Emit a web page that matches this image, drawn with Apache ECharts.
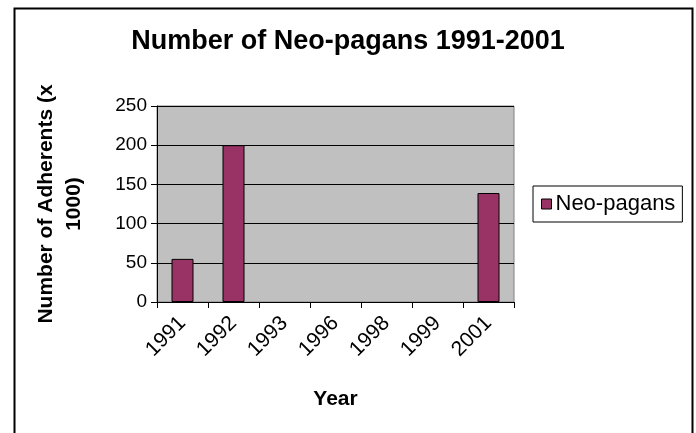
<!DOCTYPE html>
<html>
<head>
<meta charset="utf-8">
<script src="https://cdn.jsdelivr.net/npm/echarts@6/dist/echarts.min.js"></script>
<style>
html,body{margin:0;padding:0;background:#fff;}
#chart{width:696px;height:433px;}
</style>
</head>
<body>
<div id="chart"></div>
<script>
var categories = ['1991', '1992', '1993', '1996', '1998', '1999', '2001'];
var neoPagans = [55, 200, null, null, null, null, 139];
var yTicks = [0, 50, 100, 150, 200, 250];

var FONT = '"Liberation Sans", Arial, sans-serif';
var chart = echarts.init(document.getElementById('chart'), null, {renderer: 'canvas'});
chart.setOption({
  animation: false,
  backgroundColor: '#ffffff',
  title: {
    text: 'Number of Neo-pagans 1991-2001',
    left: 'center',
    top: 23,
    textStyle: {fontFamily: FONT, fontSize: 27, fontWeight: 'bold', color: '#000'}
  },
  legend: {
    left: 533, top: 186,
    itemWidth: 10, itemHeight: 10,
    borderColor: '#000', borderWidth: 1,
    padding: [7, 7, 7, 8],
    itemGap: 4,
    textStyle: {fontFamily: FONT, fontSize: 22, color: '#000', padding: [0, 0, 0, -1]},
    data: [{name: 'Neo-pagans', icon: 'rect', itemStyle: {color: '#993366', borderColor: '#000', borderWidth: 1}}]
  },
  grid: {
    left: 157, right: 182, top: 106, bottom: 131,
    show: true, backgroundColor: '#C0C0C0', borderColor: '#808080', borderWidth: 1
  },
  xAxis: {
    type: 'category',
    data: categories,
    name: 'Year',
    nameLocation: 'middle',
    nameGap: 87,
    nameTextStyle: {fontFamily: FONT, fontSize: 21, fontWeight: 'bold', color: '#000'},
    axisLine: {lineStyle: {color: '#000', width: 1}},
    axisTick: {show: true, length: 6, lineStyle: {color: '#000'}},
    axisLabel: {rotate: 45, fontFamily: FONT, fontSize: 21, color: '#000', margin: 18, interval: 0},
    splitLine: {show: false}
  },
  yAxis: {
    type: 'value',
    min: 0, max: 250, interval: 50,
    name: 'Number of Adherents (x\n1000)',
    nameLocation: 'middle',
    nameGap: 69,
    nameRotate: 90,
    nameTextStyle: {fontFamily: FONT, fontSize: 21, fontWeight: 'bold', color: '#000', lineHeight: 28, align: 'center'},
    axisLine: {show: true, lineStyle: {color: '#000', width: 1}},
    axisTick: {show: true, length: 6, lineStyle: {color: '#000'}},
    axisLabel: {fontFamily: FONT, fontSize: 19, color: '#000', margin: 10,
      formatter: function (v) { return yTicks.indexOf(v) >= 0 ? String(v) : ''; }},
    splitLine: {show: true, lineStyle: {color: '#000', width: 1}}
  },
  graphic: [{
    type: 'rect', left: 12, top: 6, silent: true,
    shape: {width: 678, height: 440},
    style: {fill: 'none', stroke: '#000', lineWidth: 2}
  }],
  series: [{
    name: 'Neo-pagans',
    type: 'bar',
    data: neoPagans,
    barWidth: 22,
    itemStyle: {color: '#993366', borderColor: '#000', borderWidth: 1}
  }]
});
</script>
</body>
</html>
